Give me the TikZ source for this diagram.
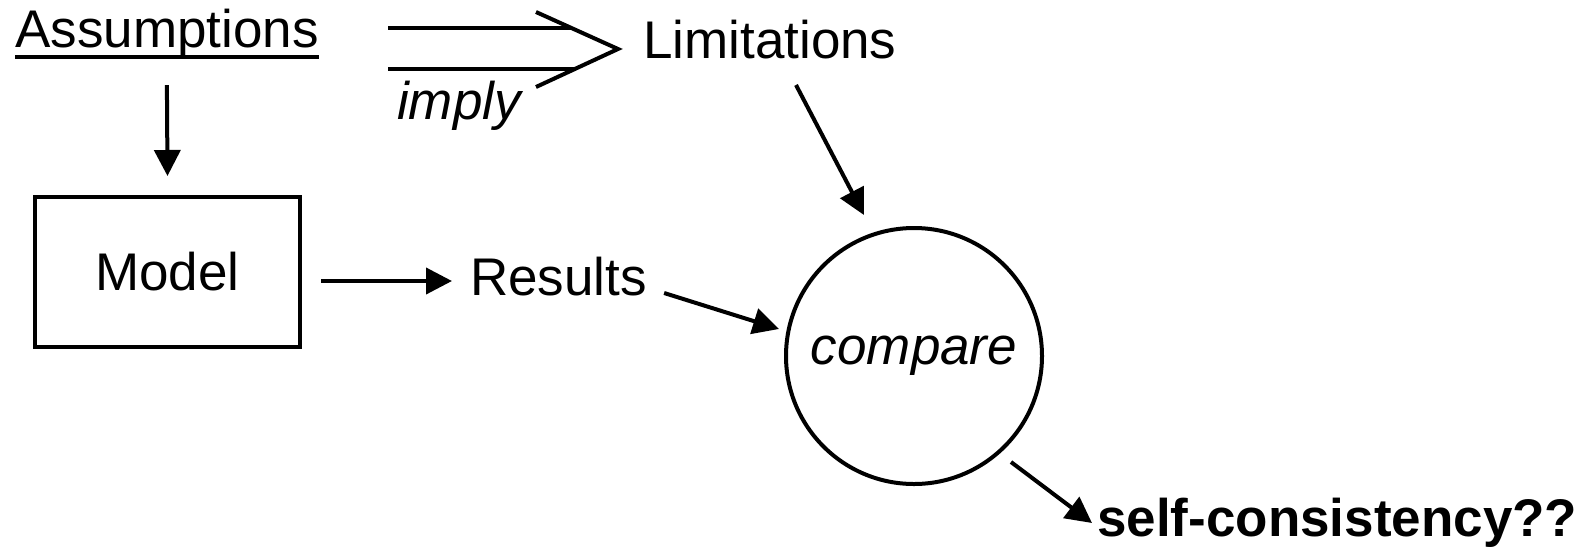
\documentclass[tikz,border=0pt]{standalone}
\usepackage{fontspec}
\setmainfont{Liberation Sans}
\usetikzlibrary{arrows.meta,calc}
\newcommand{\fnt}{\fontsize{53}{60}\selectfont}
\begin{document}
\begin{tikzpicture}[x=1pt,y=-1pt,
  lbl/.style={inner sep=0pt, anchor=base west, font=\fnt},
  arr/.style={line width=4pt, -{Triangle[length=26pt,width=26pt]}},
  ln/.style={line width=4pt}]
\useasboundingbox (0,0) rectangle (1585,550);
\node[lbl] (A) at (15,47) {Assumptions};
\node[lbl] (L) at (643,58) {Limitations};
\node[lbl, font=\fnt\itshape] (I) at (397,119) {imply};
\node[draw, line width=4pt, minimum width=265pt, minimum height=150pt, inner sep=0pt, font=\fnt] (M) at (167.5,272) {Model};
\node[lbl] (R) at (470,295) {Results};
\node[draw, circle, line width=4pt, minimum size=256pt, inner sep=0pt, font=\fnt\itshape] (C) at (914,356) {compare};
\node[lbl, font=\fnt\bfseries] (S) at (1097,536) {self-consistency??};
% underline
\draw[line width=3.5pt] ([yshift=-10pt]A.base west) -- ([yshift=-10pt]A.base east);
% implies double arrow
\coordinate (u1) at ([shift={(-255pt,30pt)}]L.base west);
\coordinate (d1) at ([shift={(-255pt,-11pt)}]L.base west);
\coordinate (u2) at ([shift={(-72pt,30pt)}]L.base west);
\coordinate (d2) at ([shift={(-68pt,-11pt)}]L.base west);
\coordinate (tip) at ([shift={(-25pt,9pt)}]L.base west);
\coordinate (c1) at ([shift={(-107pt,46pt)}]L.base west);
\coordinate (c2) at ([shift={(-107pt,-29pt)}]L.base west);
\draw[ln] (u1) -- (u2);
\draw[ln] (d1) -- (d2);
\draw[ln, line join=miter] (c1) -- (tip) -- (c2);
% arrows
\draw[arr] ([yshift=-27pt]A.south) -- ([yshift=19pt]M.north);
\draw[arr] ([shift={(19pt,-9pt)}]M.east) -- ([shift={(-18pt,14pt)}]R.base west);
\draw[arr] ([shift={(17pt,2pt)}]R.base east) -- ([shift={(-135pt,27pt)}]C.center);
\draw[arr] ([shift={(153pt,-27pt)}]L.base west) -- ([shift={(-50pt,141pt)}]C.center);
\draw[arr] ([shift={(97pt,-106pt)}]C.center) -- ([shift={(-5pt,13pt)}]S.base west);
\end{tikzpicture}
\end{document}
